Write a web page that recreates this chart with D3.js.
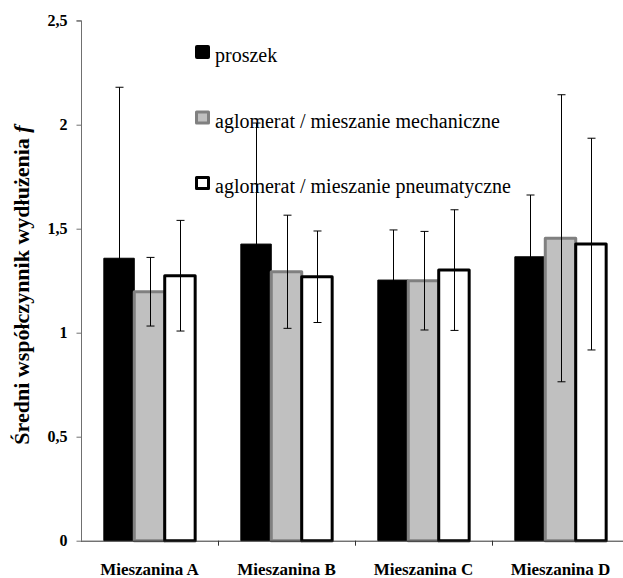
<!DOCTYPE html>
<html><head><meta charset="utf-8">
<script src="https://cdn.jsdelivr.net/npm/d3@7"></script>
<style>body{margin:0;background:#fff}svg{display:block}
svg text{font-family:"Liberation Serif",Tinos,"Noto Serif","DejaVu Serif","Times New Roman",Times,serif}</style>
</head><body>
<svg id="c" width="623" height="578"></svg>
<script>
const categories = ["Mieszanina A", "Mieszanina B", "Mieszanina C", "Mieszanina D"];
const seriesNames = ["proszek", "aglomerat / mieszanie mechaniczne", "aglomerat / mieszanie pneumatyczne"];
const proszek = [1.358, 1.426, 1.253, 1.365];
const proszekErr = [0.822, 0.582, 0.241, 0.297];
const mechaniczne = [1.197, 1.293, 1.25, 1.454];
const mechaniczneErr = [0.165, 0.272, 0.237, 0.69];
const pneumatyczne = [1.274, 1.269, 1.301, 1.426];
const pneumatyczneErr = [0.266, 0.22, 0.29, 0.509];
const yTicks = [0, 0.5, 1, 1.5, 2, 2.5];
const yLabel = "Średni współczynnik wydłużenia ";
const yLabelItalic = "f";

(function () {
const seriesVals = [proszek, mechaniczne, pneumatyczne];
const seriesErrs = [proszekErr, mechaniczneErr, pneumatyczneErr];
const fills = ["#000000", "#c0c0c0", "#ffffff"];
const strokes = ["#000000", "#808080", "#000000"];

const svg = d3.select("#c");
const pLeft = 81, pRight = 629, pTop = 20.7, pBottom = 540.7;

const x = d3.scaleBand().domain(categories).range([pLeft, pRight]).paddingInner(0).paddingOuter(0);
const xs = d3.scaleBand().domain(d3.range(3)).range([0, x.bandwidth()]).paddingInner(0).paddingOuter(0.75);
const y = d3.scaleLinear().domain([0, 2.5]).range([pBottom, pTop]);

const rows = [];
categories.forEach((c, i) => seriesVals.forEach((s, j) => rows.push({c, j, v: s[i], e: seriesErrs[j][i]})));

// bars
svg.append("g").selectAll("rect").data(rows).join("rect")
  .attr("x", d => x(d.c) + xs(d.j))
  .attr("y", d => y(d.v))
  .attr("width", xs.bandwidth())
  .attr("height", d => y(0) - y(d.v))
  .attr("fill", d => fills[d.j])
  .attr("stroke", d => strokes[d.j])
  .attr("stroke-width", d => d.j === 0 ? 1 : 3)
  .attr("stroke-linejoin", "round");

// error bars
const eg = svg.append("g").attr("stroke", "#000").attr("stroke-width", 1).attr("fill", "none");
rows.forEach(d => {
  const cx = Math.round(x(d.c) + xs(d.j) + xs.bandwidth() / 2) + 0.5;
  const y1 = y(d.v + d.e), y0 = y(d.v - d.e);
  eg.append("line").attr("x1", cx).attr("x2", cx).attr("y1", y1).attr("y2", y0);
  eg.append("line").attr("x1", cx - 4).attr("x2", cx + 4).attr("y1", y1).attr("y2", y1);
  eg.append("line").attr("x1", cx - 4).attr("x2", cx + 4).attr("y1", y0).attr("y2", y0);
});

// y axis
const ya = svg.append("g").attr("transform", `translate(${pLeft + 0.5},0)`)
  .call(d3.axisLeft(y).tickValues(yTicks).tickSize(5).tickPadding(9)
    .tickFormat(d => String(d).replace(".", ",")));
ya.attr("font-family", null);
ya.select(".domain").attr("stroke", "#707070").attr("d", `M-5,${pTop}H0V${pBottom}`);
ya.selectAll(".tick line").attr("stroke", "#707070");
ya.selectAll(".tick text").attr("font-weight", "bold")
  .attr("font-size", 16).attr("fill", "#000");

// x axis
const xa = svg.append("g");
xa.append("line").attr("x1", pLeft).attr("x2", 623).attr("y1", pBottom + 0.5).attr("y2", pBottom + 0.5)
  .attr("stroke", "#333").attr("stroke-width", 1);
xa.selectAll("line.t").data(categories.slice(1)).join("line").attr("class", "t")
  .attr("x1", d => Math.round(x(d)) + 0.5).attr("x2", d => Math.round(x(d)) + 0.5)
  .attr("y1", pBottom).attr("y2", pBottom + 5).attr("stroke", "#333");
xa.selectAll("text").data(categories).join("text")
  .attr("x", d => x(d) + x.bandwidth() / 2).attr("y", 575)
  .attr("text-anchor", "middle").attr("font-weight", "bold")
  .attr("font-size", 17).text(d => d);

// y label
const yl = svg.append("text").attr("transform", "translate(29,285) rotate(-90)")
  .attr("text-anchor", "middle").attr("font-weight", "bold").attr("font-size", 22);
yl.append("tspan").text(yLabel);
yl.append("tspan").attr("font-style", "italic").text(yLabelItalic);

// legend
const lg = svg.append("g");
const ly = d3.scalePoint().domain(d3.range(3)).range([52, 183]);
seriesNames.forEach((n, j) => {
  const cy = ly(j);
  if (j === 0) {
    lg.append("rect").attr("x", 195).attr("y", cy - 7).attr("width", 15).attr("height", 14)
      .attr("rx", 2).attr("fill", "#000");
  } else {
    lg.append("rect").attr("x", 196.5).attr("y", cy - 5.5).attr("width", 12).attr("height", 11)
      .attr("fill", fills[j]).attr("stroke", strokes[j]).attr("stroke-width", 3).attr("stroke-linejoin", "round");
  }
  lg.append("text").attr("x", 215).attr("y", cy + 10)
    .attr("font-size", 20).attr("fill", "#000").text(n);
});
})();
</script>
</body></html>
